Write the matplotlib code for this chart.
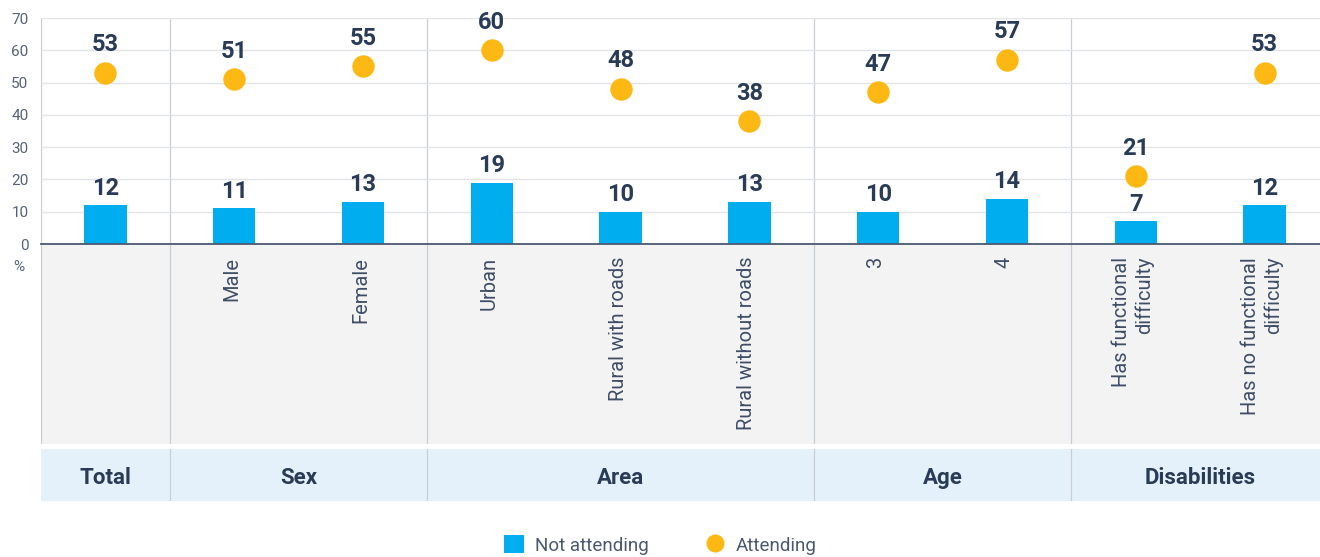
import matplotlib.pyplot as plt
from matplotlib.lines import Line2D
from matplotlib.patches import Patch

plt.rcParams["font.family"] = ["Roboto", "DejaVu Sans"]

categories = ["", "Male", "Female", "Urban", "Rural with roads",
              "Rural without roads", "3", "4",
              "Has functional\ndifficulty", "Has no functional\ndifficulty"]
not_attending = [12, 11, 13, 19, 10, 13, 10, 14, 7, 12]
attending = [53, 51, 55, 60, 48, 38, 47, 57, 21, 53]
groups = ["Total", "Sex", "Area", "Age", "Disabilities"]
group_sizes = [1, 2, 3, 2, 2]

bar_color = "#00aeef"
dot_color = "#fdb813"
navy = "#2a3b57"
grid_color = "#e1e4e9"
sep_color = "#c9ced6"

W, H = 1320, 557
fig = plt.figure(figsize=(W / 100, H / 100), dpi=100)


def rect(x0, y0, x1, y1):
	# pixel box -> figure fraction
	return [x0 / W, 1 - y1 / H, (x1 - x0) / W, (y1 - y0) / H]


n = len(categories)
xmax = 9.93  # last slot runs off the right edge
xs = [i + 0.5 for i in range(n)]
bounds = [0]
for s in group_sizes:
	bounds.append(bounds[-1] + s)

# main plot
ax = fig.add_axes(rect(41, 18, 1320, 244))
ax.set_xlim(0, xmax)
ax.set_ylim(0, 70)
ax.bar(xs, not_attending, width=0.33, color=bar_color, zorder=3)
ax.scatter(xs, attending, s=260, color=dot_color, zorder=4, linewidths=0)
for x, v in zip(xs, not_attending):
	ax.annotate(str(v), (x, v), xytext=(0, 4), textcoords="offset points",
		ha="center", va="bottom", fontsize=17, fontweight="bold", color=navy)
for x, v in zip(xs, attending):
	ax.annotate(str(v), (x, v), xytext=(0, 12), textcoords="offset points",
		ha="center", va="bottom", fontsize=17, fontweight="bold", color=navy)

ax.set_yticks(range(0, 71, 10))
ax.tick_params(axis="y", length=0, labelsize=11, labelcolor="#56627a", pad=9)
ax.set_xticks([])
ax.grid(axis="y", color=grid_color, linewidth=1, zorder=0)
for side in ["top", "right", "left"]:
	ax.spines[side].set_visible(False)
ax.spines["bottom"].set_color("#4b5870")
ax.spines["bottom"].set_linewidth(1.3)
ax.spines["bottom"].set_zorder(5)
for b in bounds[:-1]:
	ax.axvline(b, color=sep_color, linewidth=0.9, zorder=1)
fig.text(19 / W, 1 - 267 / H, "%", ha="center", va="center",
	fontsize=11, color="#56627a")

# category label band
ax_lab = fig.add_axes(rect(41, 245, 1320, 444))
ax_lab.set_xlim(0, xmax)
ax_lab.set_ylim(0, 1)
ax_lab.axis("off")
ax_lab.add_patch(plt.Rectangle((0, 0), n, 1, color="#f3f3f3", zorder=0))
for b in bounds[:-1]:
	ax_lab.axvline(b, color=sep_color, linewidth=0.9, zorder=1)
for x, c in zip(xs, categories):
	ax_lab.text(x - 0.02, 0.94, c, rotation=90, ha="center", va="top",
		multialignment="right", fontsize=14.5, color="#3f4d66",
		linespacing=1.2)

# group header band
ax_head = fig.add_axes(rect(41, 449, 1320, 501))
ax_head.set_xlim(0, xmax)
ax_head.set_ylim(0, 1)
ax_head.axis("off")
ax_head.add_patch(plt.Rectangle((0, 0), n, 1, color="#e5f1fa", zorder=0))
for b in bounds[1:-1]:
	ax_head.axvline(b, color=sep_color, linewidth=0.9, zorder=1)
for g, b0, b1 in zip(groups, bounds[:-1], bounds[1:]):
	ax_head.text((b0 + b1) / 2, 0.45, g, ha="center", va="center",
		fontsize=16, fontweight="bold", color=navy)

# legend
handles = [
	Patch(facecolor=bar_color, edgecolor="none", label="Not attending"),
	Line2D([], [], marker="o", linestyle="none", markersize=13,
		markerfacecolor=dot_color, markeredgecolor="none", label="Attending"),
]
fig.legend(handles=handles, loc="center", bbox_to_anchor=(0.5, 1 - 545 / H),
	ncol=2, frameon=False, fontsize=13.5, labelcolor="#4b5870",
	handlelength=1.1, handleheight=1.1, columnspacing=3.0, handletextpad=0.55)

fig.savefig("out.png", dpi=100)
